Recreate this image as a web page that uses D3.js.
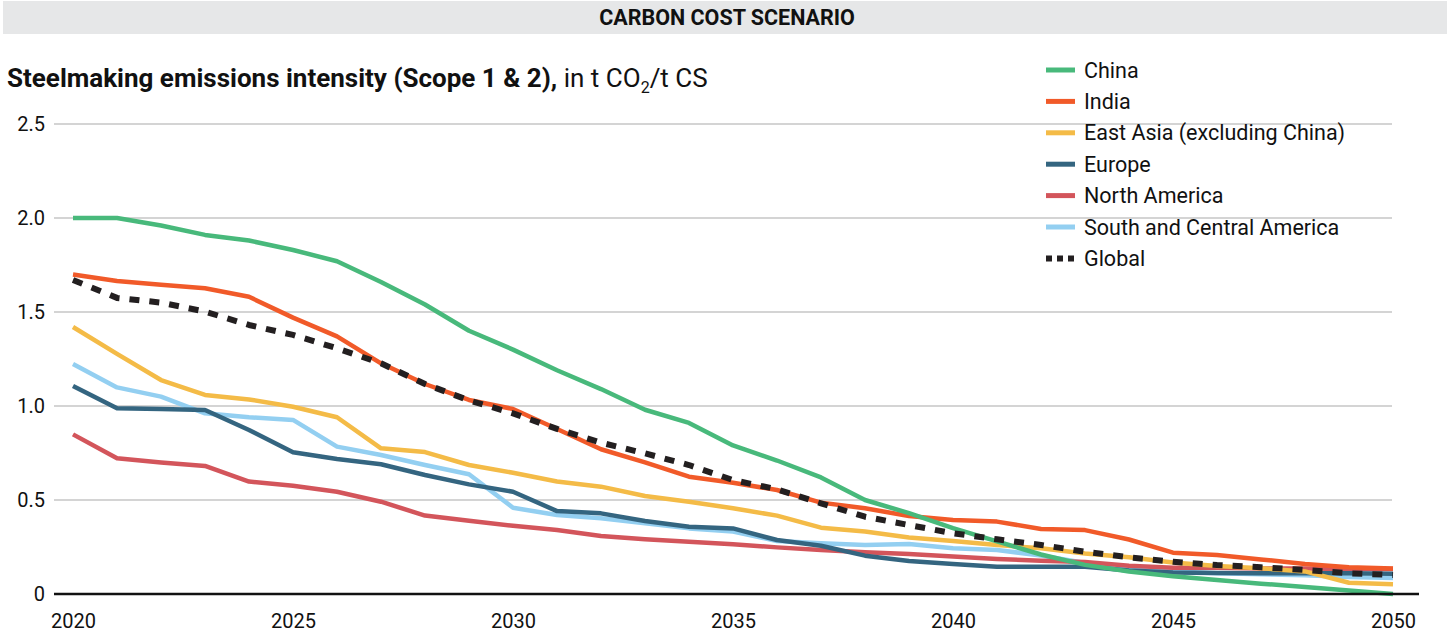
<!DOCTYPE html>
<html>
<head>
<meta charset="utf-8">
<script src="https://cdn.jsdelivr.net/npm/d3@7"></script>
<style>
  html, body { margin: 0; padding: 0; background: #fff; }
  svg { display: block; font-family: Roboto, "Noto Sans", sans-serif; }
</style>
</head>
<body>
<svg id="chart" width="1450" height="634"></svg>
<script>
// Steelmaking emissions intensity (Scope 1 & 2), t CO2 / t crude steel, carbon cost scenario
const years = [2020, 2021, 2022, 2023, 2024, 2025, 2026, 2027, 2028, 2029,
               2030, 2031, 2032, 2033, 2034, 2035, 2036, 2037, 2038, 2039,
               2040, 2041, 2042, 2043, 2044, 2045, 2046, 2047, 2048, 2049, 2050];

const china = [2.00, 2.00, 1.96, 1.91, 1.88, 1.83, 1.77, 1.66, 1.54, 1.40,
               1.30, 1.19, 1.09, 0.98, 0.91, 0.79, 0.71, 0.62, 0.50, 0.43,
               0.35, 0.28, 0.21, 0.155, 0.12, 0.095, 0.075, 0.055, 0.037, 0.018, 0.0];
const india = [1.70, 1.665, 1.645, 1.626, 1.581, 1.47, 1.37, 1.227, 1.117, 1.032,
               0.984, 0.878, 0.77, 0.70, 0.624, 0.592, 0.553, 0.486, 0.456, 0.415,
               0.394, 0.385, 0.346, 0.34, 0.29, 0.22, 0.207, 0.184, 0.16, 0.142, 0.135];
const eastAsia = [1.42, 1.277, 1.138, 1.059, 1.035, 0.996, 0.94, 0.775, 0.755, 0.686,
                  0.645, 0.598, 0.571, 0.521, 0.491, 0.456, 0.417, 0.353, 0.332, 0.301,
                  0.282, 0.261, 0.243, 0.216, 0.195, 0.167, 0.149, 0.137, 0.12, 0.06, 0.052];
const europe = [1.106, 0.988, 0.984, 0.979, 0.872, 0.754, 0.718, 0.69, 0.633, 0.583,
                0.544, 0.441, 0.429, 0.388, 0.358, 0.349, 0.287, 0.257, 0.204, 0.176,
                0.16, 0.145, 0.145, 0.145, 0.125, 0.115, 0.112, 0.11, 0.11, 0.11, 0.108];
const northAmerica = [0.849, 0.722, 0.699, 0.681, 0.598, 0.576, 0.544, 0.491, 0.417, 0.39,
                      0.363, 0.34, 0.309, 0.291, 0.278, 0.265, 0.248, 0.234, 0.222, 0.213,
                      0.199, 0.186, 0.177, 0.17, 0.15, 0.14, 0.14, 0.135, 0.135, 0.133, 0.133];
const southCentralAmerica = [1.223, 1.099, 1.05, 0.961, 0.94, 0.926, 0.784, 0.739, 0.686, 0.637,
                             0.459, 0.42, 0.403, 0.376, 0.349, 0.332, 0.282, 0.27, 0.261, 0.266,
                             0.243, 0.234, 0.205, 0.165, 0.13, 0.12, 0.11, 0.105, 0.1, 0.09, 0.085];
const global = [1.67, 1.575, 1.55, 1.502, 1.431, 1.378, 1.307, 1.227, 1.117, 1.03,
                0.961, 0.878, 0.805, 0.748, 0.686, 0.606, 0.557, 0.482, 0.411, 0.367,
                0.323, 0.291, 0.261, 0.225, 0.195, 0.172, 0.154, 0.142, 0.128, 0.11, 0.101];

const xTicks = [2020, 2025, 2030, 2035, 2040, 2045, 2050];
const yTicks = [0, 0.5, 1.0, 1.5, 2.0, 2.5];
const yTickLabels = ["0", "0.5", "1.0", "1.5", "2.0", "2.5"];

const seriesNames = ["China", "India", "East Asia (excluding China)", "Europe",
                     "North America", "South and Central America", "Global"];
const seriesValues = [china, india, eastAsia, europe, northAmerica, southCentralAmerica, global];
const seriesColors = ["#48b97b", "#f15a29", "#f4bb47", "#346580", "#d3555b", "#93cff1", "#231f20"];

const series = seriesNames.map((name, i) => ({
  name, color: seriesColors[i], dashed: name === "Global",
  points: years.map((yr, j) => ({ year: yr, value: seriesValues[i][j] }))
}));

const svg = d3.select("#chart");

// Scenario banner
svg.append("rect").attr("x", 3).attr("y", 1).attr("width", 1444).attr("height", 33)
  .attr("fill", "#e6e7e8");
svg.append("text").attr("x", 727).attr("y", 25).attr("text-anchor", "middle")
  .attr("font-size", 21.5).attr("font-weight", 700).attr("fill", "#111")
  .text("CARBON COST SCENARIO");

// Chart title with subscript
const title = svg.append("text").attr("x", 7).attr("y", 87)
  .attr("font-size", 26).attr("fill", "#111");
title.append("tspan").attr("font-weight", 700).text("Steelmaking emissions intensity (Scope 1 & 2),");
title.append("tspan").text(" in t CO");
title.append("tspan").attr("font-size", 16).attr("dy", 6).text("2");
title.append("tspan").attr("dy", -6).text("/t CS");

const x = d3.scaleLinear().domain([2020, 2050]).range([73, 1393]);
const y = d3.scaleLinear().domain([0, 2.5]).range([594, 124]);

// Horizontal gridlines
svg.append("g").selectAll("line").data(yTicks.filter(v => v > 0)).join("line")
  .attr("x1", 54).attr("x2", 1392)
  .attr("y1", d => y(d)).attr("y2", d => y(d))
  .attr("stroke", "#c6c6c6").attr("stroke-width", 1.4);

// Y axis labels
const yAxis = d3.axisLeft(y).tickValues(yTicks).tickSize(0).tickPadding(0)
  .tickFormat((d, i) => yTickLabels[i]);
svg.append("g").attr("transform", "translate(45,0)").call(yAxis)
  .call(g => g.select(".domain").remove())
  .call(g => g.selectAll("text").attr("font-size", 20).attr("fill", "#111")
    .attr("font-family", "Roboto, sans-serif"));

// X axis labels
const xAxis = d3.axisBottom(x).tickValues(xTicks).tickSize(0).tickPadding(0)
  .tickFormat(d3.format("d"));
svg.append("g").attr("transform", "translate(0,614)").call(xAxis)
  .call(g => g.select(".domain").remove())
  .call(g => g.selectAll("text").attr("font-size", 20).attr("fill", "#111")
    .attr("font-family", "Roboto, sans-serif"));

// Lines
const line = d3.line().x(d => x(d.year)).y(d => y(d.value));
const drawOrder = [5, 4, 3, 2, 1, 0, 6];
svg.append("g").selectAll("path").data(drawOrder.map(i => series[i])).join("path")
  .attr("d", d => line(d.points))
  .attr("fill", "none")
  .attr("stroke", d => d.color)
  .attr("stroke-width", d => d.dashed ? 6 : 4.5)
  .attr("stroke-dasharray", d => d.dashed ? "10,10" : null)
  .attr("stroke-linejoin", "round");

// Zero baseline
svg.append("line").attr("x1", 54).attr("x2", 1419)
  .attr("y1", y(0)).attr("y2", y(0))
  .attr("stroke", "#111").attr("stroke-width", 2.5);

// Legend
const legend = svg.append("g").attr("transform", "translate(1046,70)");
const items = legend.selectAll("g").data(series).join("g")
  .attr("transform", (d, i) => `translate(0,${i * 31.4})`);
items.append("line").attr("x1", 0).attr("x2", 29).attr("y1", 0).attr("y2", 0)
  .attr("stroke", d => d.color)
  .attr("stroke-width", d => d.dashed ? 6 : 5)
  .attr("stroke-dasharray", d => d.dashed ? "6,5" : null);
items.append("text").attr("x", 38).attr("y", 0).attr("dy", "0.35em")
  .attr("font-size", 21.5).attr("fill", "#111").text(d => d.name);
</script>
</body>
</html>
